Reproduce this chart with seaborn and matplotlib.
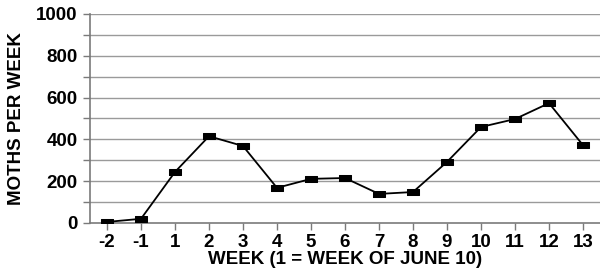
import matplotlib
matplotlib.use("Agg")
import matplotlib.pyplot as plt
import seaborn as sns
import pandas as pd

weeks = ["-2", "-1", "1", "2", "3", "4", "5", "6", "7", "8", "9", "10", "11", "12", "13"]
moths = [5, 20, 244, 415, 368, 168, 211, 215, 139, 148, 292, 459, 497, 573, 372]

df = pd.DataFrame({"week": weeks, "moths": moths})

sns.set_style("white")
plt.rcParams["font.family"] = ["Liberation Sans", "DejaVu Sans"]
plt.rcParams["font.weight"] = "bold"
plt.rcParams["text.color"] = "black"
plt.rcParams["axes.labelcolor"] = "black"
plt.rcParams["xtick.color"] = "black"
plt.rcParams["ytick.color"] = "black"

fig = plt.figure(figsize=(6, 2.77), dpi=100)
ax = fig.add_axes([0.15, 0.195, 0.85, 0.755])

# gridlines (major + minor every 100)
for y in range(100, 1001, 100):
    ax.axhline(y, color="#9a9a9a", lw=1.0, zorder=0)

# slightly flat rectangle marker like the original
rect = [(-1, -0.62), (1, -0.62), (1, 0.62), (-1, 0.62), (-1, -0.62)]
sns.lineplot(data=df, x="week", y="moths", sort=False, ax=ax, color="black",
             lw=1.3, marker=rect, markersize=8, markeredgecolor="black", zorder=3)

ax.set_xlim(-0.5, len(weeks) - 0.5)
ax.set_ylim(0, 1000)
ax.set_yticks(range(0, 1001, 200))
ax.set_yticks(range(100, 1000, 200), minor=True)
ax.tick_params(axis="y", which="both", direction="out", length=5, color="#7a7a7a",
               labelcolor="black", labelsize=13.5, width=1, left=True, pad=4)
ax.tick_params(axis="x", direction="out", length=5, color="#7a7a7a",
               labelcolor="black", labelsize=13.5, width=1, bottom=True, pad=3)
for lbl in ax.get_xticklabels() + ax.get_yticklabels():
    lbl.set_fontweight("bold")

for s in ["top", "right"]:
    ax.spines[s].set_visible(False)
for s in ["left", "bottom"]:
    ax.spines[s].set_color("#7a7a7a")
    ax.spines[s].set_linewidth(1.2)

ax.set_xlabel("WEEK (1 = WEEK OF JUNE 10)", fontsize=13.5, fontweight="bold",
              color="black", labelpad=0)
ax.set_ylabel("MOTHS PER WEEK", fontsize=13.5, fontweight="bold",
              color="black", labelpad=8)

fig.savefig("out.png", dpi=100)
